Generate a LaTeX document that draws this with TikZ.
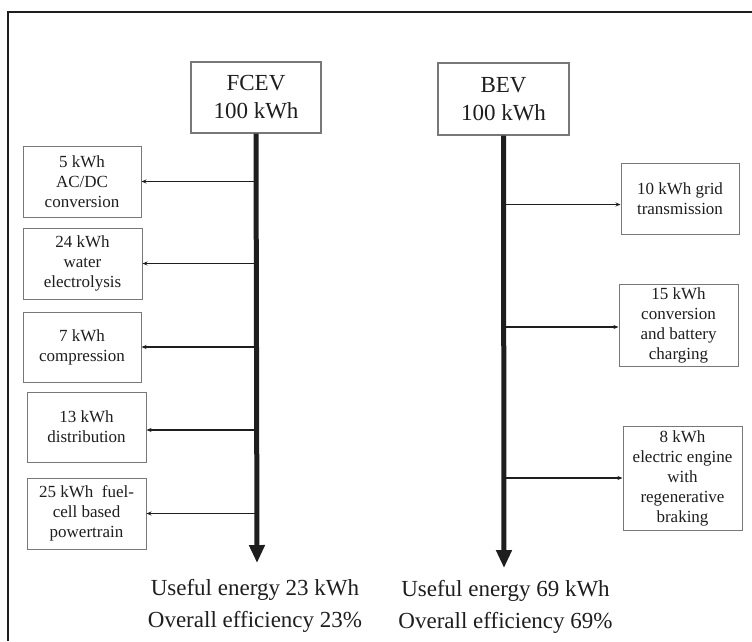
\documentclass[tikz,border=0pt]{standalone}
\usepackage{fontspec}
\setmainfont{Liberation Serif}
\usepackage{tikz}
\usetikzlibrary{arrows.meta,positioning}
\usepackage{xcolor}
\definecolor{inkgray}{RGB}{30,30,30}
\definecolor{edgegray}{RGB}{120,120,120}
\tikzset{
  headbox/.style={rectangle, draw=edgegray, line width=1.2pt, minimum width=130pt, minimum height=71pt,
                  align=center, inner sep=2pt, text=inkgray, font=\fontsize{23}{28}\selectfont},
  lossbox/.style={rectangle, draw=edgegray, line width=1pt, minimum width=118pt, minimum height=71pt,
                  align=center, inner sep=2pt, text=inkgray, font=\fontsize{17}{20}\selectfont},
  trunk/.style={-{Triangle[length=18pt, width=15pt]}, line width=5pt, inkgray},
  branch/.style={-{Stealth[length=5pt, width=4pt]}, line width=1.5pt, inkgray},
  result/.style={align=center, text=inkgray, font=\fontsize{23}{32}\selectfont},
}
\begin{document}
\begin{tikzpicture}[x=1pt, y=-1pt]

% ---- Frame ----
\useasboundingbox[fill=white] (0,0) rectangle (752,641);
\draw[line width=1.5pt, inkgray] (8,641) -- (8,12) -- (752,12);

% ---- Heads ----
\node[headbox] (fcev) at (256,97.5) {FCEV\\100 kWh};
\node[headbox, minimum width=131pt, minimum height=72pt] (bev) at (503.5,99) {BEV\\100 kWh};

% ---- FCEV losses (left) ----
\node[lossbox] (floss1) at (82,181.5) {5 kWh\\AC/DC\\conversion};
\node[lossbox, minimum width=119pt] (floss2) at (82.5,263.5) {24 kWh\\water\\electrolysis};
\node[lossbox, minimum height=70pt] (floss3) at (82,347) {7 kWh\\compression};
\node[lossbox, minimum width=119pt, minimum height=70pt] (floss4) at (86.5,427) {13 kWh\\distribution};
\node[lossbox, minimum width=119pt] (floss5) at (86.5,513.5) {25 kWh\ \ fuel-\\cell based\\powertrain};

% ---- BEV losses (right) ----
\node[lossbox] (bloss1) at (680,198.5) {10 kWh grid\\transmission};
\node[lossbox, minimum width=119pt, minimum height=82pt] (bloss2) at (678.5,325) {15 kWh\\conversion\\and battery\\charging};
\node[lossbox, minimum width=119pt, minimum height=104pt] (bloss3) at (682.5,478) {8 kWh\\electric engine\\with\\regenerative\\braking};

% ---- Useful energy ----
\coordinate (fend) at (257,563);
\coordinate (bend) at (504,568);
\node[result] (fuse) at (255,606) {Useful energy 23 kWh\\Overall efficiency 23\%};
\node[result] (buse) at (505.5,607) {Useful energy 69 kWh\\Overall efficiency 69\%};

% ---- Arrows ----
\draw[trunk] (fcev.south) -- (fend);
\draw[trunk] (bev.south) -- (bend);
\foreach \b/\s in {floss1/0, floss2/0, floss3/0, floss4/-3, floss5/0}
  \draw[branch] ([yshift=\s pt]fend |- \b.east) -- ([yshift=\s pt]\b.east);
\foreach \b/\s in {bloss1/-6, bloss2/-2, bloss3/0}
  \draw[branch] ([yshift=\s pt]bend |- \b.west) -- ([yshift=\s pt]\b.west);
\end{tikzpicture}
\end{document}
